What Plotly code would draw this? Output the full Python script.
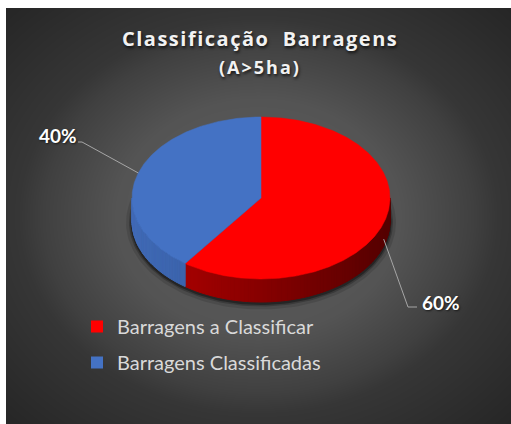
import math, base64, zlib, struct
import plotly.graph_objects as go

# ---- data ----
CATEGORIES = ["Barragens a Classificar", "Barragens Classificadas"]
VALUES = [60, 40]
COLORS = ["#FF0000", "#4472C4"]
TITLE = "Classificação  Barragens"
SUBTITLE = "(A>5ha)"

# ---- style ----
SIDE_LIGHT = [(0xB8, 0x00, 0x00), (0x40, 0x6A, 0xB6)]
SIDE_DARK = [(0x55, 0x00, 0x00), (0x2A, 0x4B, 0x88)]
W, H = 511, 424
BOX_X0, BOX_Y0 = 6, 8
CX, CY, RX, RY, DEPTH = 261, 198, 129, 81, 23
FONT = "Lato"
TITLE_FONT = "Open Sans"
LABEL_POS = [  # (elbow, end, text anchor) per slice
    ((408, 307), (417, 307), (420, 302, "left")),
    ((82, 142), (78, 142), (58, 135, "center")),
]


def pt(t, dy=0.0, grow=0.0):
    r = math.radians(t)
    return CX + (RX + grow) * math.sin(r), CY - (RY + grow) * math.cos(r) + dy


def arc(a, b, dy=0.0, step=1.0):
    n = max(2, int(abs(b - a) / step) + 1)
    return [pt(a + (b - a) * k / (n - 1), dy) for k in range(n)]


# ---- background gradient image ----
def bg_value(x, y):
    nx = (x - 258) / (505 / 2)
    ny = (y - 216) / (416 / 2)
    d = math.hypot(nx, ny)
    pts = [(0, 92), (0.56, 84), (0.85, 64), (0.95, 54), (1.41, 38), (3, 38)]
    for (d0, v0), (d1, v1) in zip(pts, pts[1:]):
        if d <= d1:
            return int(round(v0 + (v1 - v0) * (d - d0) / (d1 - d0)))
    return 38


def make_png(w, h):
    raw = bytearray()
    for j in range(h):
        raw.append(0)
        for i in range(w):
            v = bg_value(i + BOX_X0, j + BOX_Y0)
            raw += bytes((v, v, v))

    def chunk(tag, data):
        c = struct.pack(">I", len(data)) + tag + data
        return c + struct.pack(">I", zlib.crc32(tag + data) & 0xFFFFFFFF)

    return (b"\x89PNG\r\n\x1a\n"
            + chunk(b"IHDR", struct.pack(">IIBBBBB", w, h, 8, 2, 0, 0, 0))
            + chunk(b"IDAT", zlib.compress(bytes(raw), 9))
            + chunk(b"IEND", b""))


bw, bh = W - BOX_X0, H - BOX_Y0
png_uri = "data:image/png;base64," + base64.b64encode(make_png(bw, bh)).decode()

fig = go.Figure()

# ---- shadow under pie ----
for grow, alpha in [(6, 0.12), (3, 0.22), (1.5, 0.35)]:
    sh = [pt(t, DEPTH + 1.5, grow) for t in range(0, 361, 2)]
    fig.add_trace(go.Scatter(x=[p[0] for p in sh], y=[p[1] for p in sh], fill="toself",
                             fillcolor=f"rgba(0,0,0,{alpha})", line=dict(width=0),
                             mode="lines", hoverinfo="skip", showlegend=False))

total = float(sum(VALUES))
angles = []
acc = 0.0
for v in VALUES:
    a = acc / total * 360
    acc += v
    angles.append((a, acc / total * 360))


def mix(c1, c2, u):
    return "rgb(%d,%d,%d)" % tuple(round(c1[k] + (c2[k] - c1[k]) * u) for k in range(3))


# ---- side walls (front half only) ----
for i, (a, b) in enumerate(angles):
    lo, hi = max(a, 90), min(b, 270)
    if hi <= lo:
        continue
    nstrip = max(1, int((hi - lo) / 1.5))
    for k in range(nstrip):
        t0 = lo + (hi - lo) * k / nstrip
        t1 = lo + (hi - lo) * (k + 1) / nstrip
        tm = (t0 + t1) / 2
        u = (math.sin(math.radians(tm)) + 1) / 2
        col = mix(SIDE_LIGHT[i], SIDE_DARK[i], u)
        poly = arc(t0, t1, 0, 0.5) + arc(t1, t0, DEPTH, 0.5)
        poly.append(poly[0])
        fig.add_trace(go.Scatter(x=[p[0] for p in poly], y=[p[1] for p in poly], fill="toself",
                                 fillcolor=col, line=dict(width=1, color=col), mode="lines",
                                 hoverinfo="skip", showlegend=False))

# ---- top surface ----
for i, (a, b) in enumerate(angles):
    poly = [(CX, CY)] + arc(a, b, 0, 0.5) + [(CX, CY)]
    fig.add_trace(go.Scatter(x=[p[0] for p in poly], y=[p[1] for p in poly], fill="toself",
                             fillcolor=COLORS[i], line=dict(width=0.5, color=COLORS[i]),
                             mode="lines", hoverinfo="skip", showlegend=False))

# ---- leader lines & labels ----
annotations = []
for i, (a, b) in enumerate(angles):
    mid = (a + b) / 2
    front = math.cos(math.radians(mid)) < 0
    start = pt(mid, DEPTH * 0.7 if front else 0)
    elbow, end, (tx, ty, anchor) = LABEL_POS[i]
    fig.add_trace(go.Scatter(x=[start[0], elbow[0], end[0]], y=[start[1], elbow[1], end[1]],
                             mode="lines", line=dict(color="#A6A6A6", width=1),
                             hoverinfo="skip", showlegend=False))
    annotations.append(dict(x=tx, y=ty, xref="x", yref="y", text=f"<b>{VALUES[i] / total:.0%}</b>",
                            showarrow=False, xanchor=anchor, yanchor="middle",
                            font=dict(family=FONT, size=19, color="#FFFFFF",
                                      shadow="1px 1px 2px rgba(0,0,0,0.6)")))

# ---- legend entries ----
for i, cat in enumerate(CATEGORIES):
    fig.add_trace(go.Scatter(x=[None], y=[None], mode="markers", name=cat, legendgroup=cat,
                             marker=dict(symbol="square", size=12, color=COLORS[i])))

annotations.append(dict(x=260, y=38, xref="x", yref="y",
                        text=f'<span style="letter-spacing:1.5px"><b>{TITLE}</b></span>',
                        showarrow=False, xanchor="center", yanchor="middle",
                        font=dict(family=TITLE_FONT, size=20, color="#F2F2F2",
                                  shadow="1px 2px 3px rgba(0,0,0,0.7)")))
annotations.append(dict(x=260, y=67, xref="x", yref="y",
                        text=f'<span style="letter-spacing:2px"><b>{SUBTITLE}</b></span>',
                        showarrow=False, xanchor="center", yanchor="middle",
                        font=dict(family=TITLE_FONT, size=18, color="#F2F2F2",
                                  shadow="1px 2px 3px rgba(0,0,0,0.7)")))

fig.update_layout(
    width=W, height=H,
    margin=dict(l=0, r=0, t=0, b=0),
    paper_bgcolor="#FFFFFF",
    plot_bgcolor="rgba(0,0,0,0)",
    xaxis=dict(range=[0, W], visible=False, fixedrange=True),
    yaxis=dict(range=[H, 0], visible=False, fixedrange=True),
    images=[dict(source=png_uri, xref="paper", yref="paper", x=BOX_X0 / W, y=1 - BOX_Y0 / H,
                 sizex=bw / W, sizey=bh / H, xanchor="left", yanchor="top",
                 sizing="stretch", layer="below")],
    annotations=annotations,
    showlegend=True,
    legend=dict(x=77 / W, y=1 - 307 / H, xanchor="left", yanchor="top",
                font=dict(family=FONT, size=20, color="#D9D9D9"),
                bgcolor="rgba(0,0,0,0)", tracegroupgap=7, itemclick=False, itemdoubleclick=False),
    hovermode=False,
)

fig.write_html("out.html", config={"displayModeBar": False},
               post_script="document.body.style.margin='0px';")
